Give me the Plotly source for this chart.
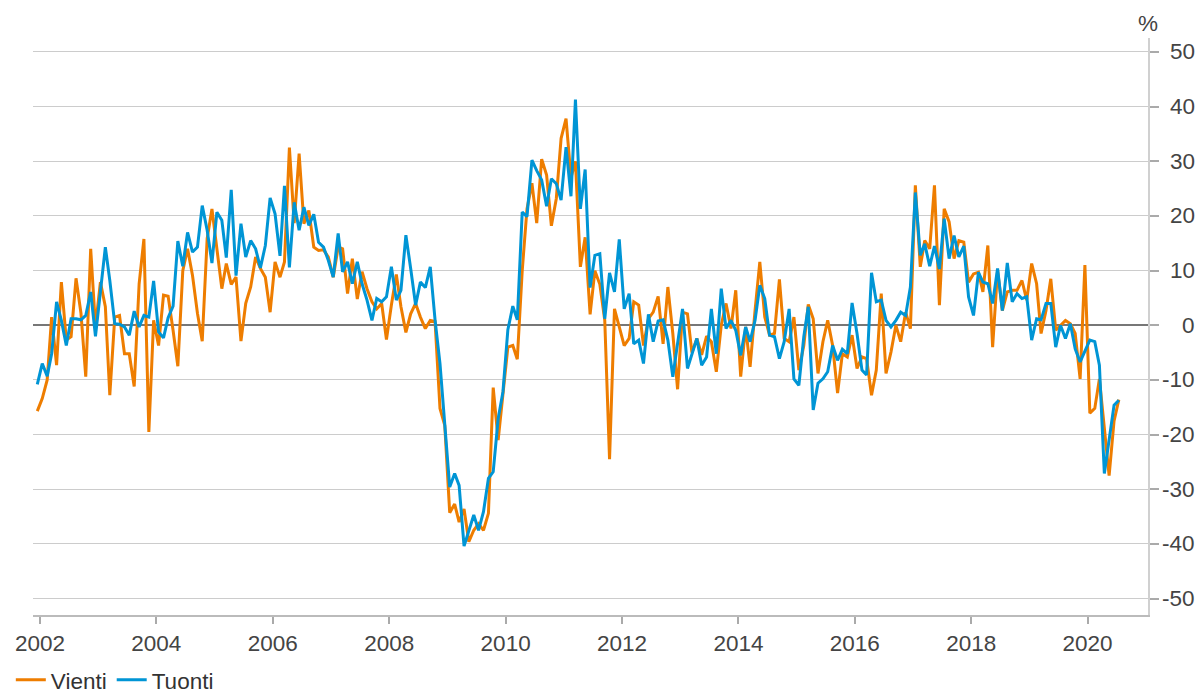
import pandas as pd
import plotly.graph_objects as go

# Monthly year-on-year change (%), December 2001 - July 2020
months = (pd.date_range("2001-12-01", periods=224, freq="MS") + pd.Timedelta(days=14)).strftime("%Y-%m-%d").tolist()

vienti = [
    -15.7, -13.4, -10.0, 1.5, -7.3, 7.9, -2.7, -2.1, 8.6, 2.2, -9.4, 14.0,
    -0.3, 7.9, 3.4, -12.8, 1.5, 1.8, -5.2, -5.2, -11.2, 7.6, 15.8, -19.5,
    0.9, -3.7, 5.5, 5.3, -0.9, -7.5, 10.0, 14.0, 9.1, 2.2, -2.9, 15.9,
    21.3, 14.3, 6.7, 11.3, 7.5, 8.8, -2.9, 4.0, 7.0, 12.5, 10.4, 8.8,
    2.4, 11.6, 8.8, 11.6, 32.5, 18.7, 31.4, 18.6, 21.0, 14.3, 13.7, 13.8,
    12.5, 8.8, 14.3, 14.0, 5.8, 12.2, 4.8, 9.8, 6.7, 4.3, 3.0, 4.0,
    -2.6, 3.7, 9.3, 3.4, -1.3, 2.1, 4.0, 1.5, -0.6, 0.9, 0.7, -15.2,
    -18.3, -34.3, -32.7, -36.0, -33.6, -39.6, -37.5, -36.3, -37.5, -34.4, -11.4, -21.0,
    -13.1, -4.0, -3.7, -6.2, 10.0, 21.3, 26.0, 18.7, 30.4, 27.5, 18.2, 23.2,
    34.2, 37.8, 27.0, 30.0, 10.7, 16.1, 2.0, 10.0, 7.5, 0.9, -24.5, 3.0,
    -0.3, -3.7, -2.4, 4.3, 3.7, -3.7, 1.2, 2.4, 5.3, -3.4, 7.0, -1.5,
    -11.7, 2.4, 2.1, -5.0, -2.4, -5.4, -2.0, -3.0, -8.5, 0.0, 4.0, -0.6,
    6.4, -9.4, -0.3, -7.6, 2.7, 11.6, 1.5, -1.8, -1.5, 8.4, -2.4, -3.0,
    1.5, -8.2, -3.7, 3.8, 1.2, -8.8, -3.0, 0.9, -3.7, -12.4, -5.2, -5.8,
    -1.8, -7.9, -5.8, -6.1, -12.8, -8.2, 5.8, -8.8, -4.9, 0.0, -3.0, 2.4,
    -0.6, 25.6, 10.7, 15.5, 14.0, 25.6, 3.7, 21.3, 18.9, 12.2, 15.5, 15.2,
    7.9, 9.4, 9.7, 6.1, 14.6, -4.0, 10.1, 2.7, 6.1, 6.4, 6.4, 8.2,
    4.6, 11.3, 7.6, -1.5, 2.7, 8.5, -0.9, 0.0, 0.9, 0.3, -1.5, -9.8,
    11.0, -16.1, -15.2, -9.8, -19.0, -27.5, -17.5, -13.6,
]

tuonti = [
    -10.8, -7.0, -9.3, -5.2, 4.3, 0.9, -3.7, 1.2, 1.2, 1.0, 1.8, 6.1,
    -2.0, 6.2, 14.3, 8.2, 0.3, 0.2, -0.3, -1.8, 2.6, -0.3, 1.8, 1.5,
    8.1, -1.2, -2.3, 1.4, 3.5, 15.4, 10.8, 17.0, 13.4, 14.3, 21.9, 17.4,
    11.4, 20.7, 19.2, 12.4, 24.8, 9.1, 18.6, 12.5, 15.5, 14.0, 10.5, 14.6,
    23.3, 20.4, 12.7, 25.5, 10.6, 22.5, 17.4, 21.6, 18.3, 20.3, 15.2, 14.3,
    11.9, 8.8, 16.8, 9.8, 11.6, 7.6, 11.6, 7.6, 4.6, 0.9, 4.9, 4.3,
    5.2, 10.7, 4.6, 6.4, 16.5, 10.4, 3.7, 7.9, 6.9, 10.7, 1.0, -7.0,
    -18.0, -29.6, -27.1, -29.3, -40.4, -37.5, -34.7, -37.5, -34.1, -28.0, -26.8, -17.1,
    -12.2, -0.8, 3.5, 1.0, 20.7, 19.9, 30.2, 28.3, 26.6, 21.8, 26.8, 25.9,
    22.9, 32.6, 23.6, 41.3, 21.3, 28.5, 6.9, 12.8, 13.1, 1.2, 9.6, 6.1,
    15.7, 3.0, 5.8, -3.4, -2.7, -7.0, 2.0, -3.0, 0.8, 1.0, -2.7, -9.4,
    -3.5, 3.0, -7.9, -5.3, -2.4, -7.3, -5.8, 3.0, -5.2, 6.7, -0.6, 0.9,
    -0.9, -5.5, -0.3, -3.0, 0.9, 7.3, 4.9, -1.8, -2.1, -6.1, -3.0, 3.0,
    -9.8, -11.0, -2.1, 3.4, -15.5, -10.6, -9.8, -8.5, -3.7, -6.4, -4.4, -5.2,
    4.1, -1.5, -8.2, -9.1, 9.6, 4.3, 4.6, 0.9, -0.3, 0.9, 2.4, 1.8,
    7.0, 24.3, 12.8, 14.9, 10.8, 14.5, 10.3, 19.5, 12.2, 16.4, 12.5, 14.5,
    5.2, 1.8, 9.7, 7.9, 7.6, 4.0, 10.4, 2.7, 11.4, 4.3, 5.8, 4.9,
    5.2, -2.7, 1.2, 1.0, 4.0, 4.0, -4.0, 0.0, -2.4, 0.3, -4.3, -6.7,
    -4.6, -2.7, -3.0, -7.3, -27.1, -21.0, -14.6, -13.7,
]

year_ticks = [f"{y}-01-01" for y in range(2002, 2021, 2)]
year_labels = [str(y) for y in range(2002, 2021, 2)]
y_ticks = list(range(-50, 51, 10))

ORANGE = "#EE7D00"
BLUE = "#0095D5"
TEXT = "#444444"
FONT = "Liberation Sans, Arial, sans-serif"
FS = 22.5

fig = go.Figure()
fig.add_trace(go.Scatter(x=months, y=vienti, name="Vienti", mode="lines",
                         line=dict(color=ORANGE, width=3)))
fig.add_trace(go.Scatter(x=months, y=tuonti, name="Tuonti", mode="lines",
                         line=dict(color=BLUE, width=3)))

fig.update_layout(
    width=1202, height=694,
    margin=dict(l=33, r=54, t=38, b=79, autoexpand=False),
    paper_bgcolor="white", plot_bgcolor="white",
    font=dict(family=FONT, size=FS, color=TEXT),
    showlegend=True,
    legend=dict(orientation="h", xref="container", yref="container",
                x=0.009, y=0.02, xanchor="left", yanchor="middle",
                font=dict(size=FS, color="#333333"),
                itemwidth=30, tracegroupgap=0, bgcolor="rgba(0,0,0,0)"),
)

fig.update_xaxes(
    type="date",
    range=["2001-11-18", "2021-01-14"],
    tickmode="array", tickvals=year_ticks, ticktext=year_labels,
    ticks="outside", ticklen=7, tickwidth=1.5, tickcolor="#aaaaaa",
    showline=True, linecolor="#bbbbbb", linewidth=1.5,
    showgrid=False, zeroline=False,
    tickfont=dict(size=FS, color=TEXT),
)

fig.update_yaxes(
    side="right",
    range=[-53.0, 52.56],
    tickmode="array", tickvals=y_ticks,
    showticklabels=False,
    ticks="outside", ticklen=9, tickwidth=1.5, tickcolor="#aaaaaa",
    showline=True, linecolor="#d0d0d0", linewidth=1.5,
    showgrid=True, gridcolor="#cccccc", gridwidth=1.3,
    zeroline=True, zerolinecolor="#777777", zerolinewidth=1.5,
)

# Right-aligned value labels on the right-hand axis
for v in y_ticks:
    fig.add_annotation(x=1.0439, xref="paper", y=v, yref="y",
                       text=str(v), showarrow=False, xanchor="right", yanchor="middle",
                       font=dict(size=FS, color=TEXT))

fig.add_annotation(x=1.0, xref="paper", y=1.0, yref="paper",
                   text="%", showarrow=False, xanchor="center", yanchor="bottom",
                   font=dict(size=FS, color=TEXT))

fig.write_html("out.html")
